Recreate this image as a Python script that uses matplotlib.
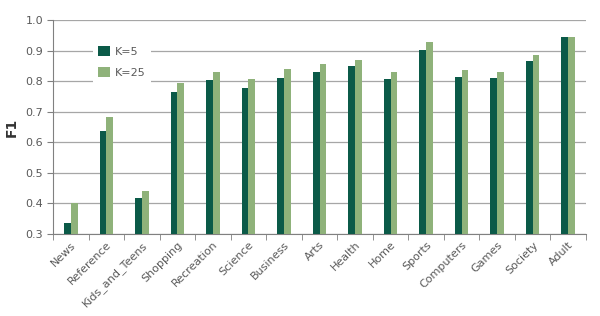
import matplotlib
matplotlib.use("Agg")
import matplotlib.pyplot as plt
import numpy as np

categories = ["News", "Reference", "Kids_and_Teens", "Shopping", "Recreation", "Science",
              "Business", "Arts", "Health", "Home", "Sports", "Computers", "Games", "Society", "Adult"]
k5 = [0.336, 0.638, 0.417, 0.766, 0.803, 0.777, 0.810, 0.831, 0.849, 0.806, 0.902, 0.814, 0.810, 0.865, 0.944]
k25 = [0.402, 0.682, 0.441, 0.794, 0.831, 0.806, 0.840, 0.857, 0.869, 0.831, 0.928, 0.835, 0.831, 0.886, 0.944]
series_labels = ["K=5", "K=25"]
yticks = [0.3, 0.4, 0.5, 0.6, 0.7, 0.8, 0.9, 1.0]

dark = "#0b5a48"
light = "#8fb27a"
txt = "#595959"

fig = plt.figure(figsize=(6, 3.16), dpi=100)
ax = fig.add_axes([53/600, 1 - 234/316, (586-53)/600, (234-20)/316])

x = np.arange(len(categories))
w = 0.19
ax.bar(x - w/2, k5, w, color=dark, label=series_labels[0], zorder=3)
ax.bar(x + w/2, k25, w, color=light, label=series_labels[1], zorder=3)

ax.set_ylim(0.3, 1.0)
ax.set_xlim(-0.5, len(categories) - 0.5)
ax.set_yticks(yticks)
ax.set_yticklabels([f"{v:.1f}" for v in yticks], fontsize=8, color=txt)
ax.yaxis.grid(True, color="#a6a6a6", linewidth=0.9, zorder=0)
ax.set_axisbelow(True)

ax.set_xticks(x)
ax.set_xticklabels(categories, rotation=45, ha="right", rotation_mode="anchor", fontsize=8, color=txt)
ax.tick_params(axis="x", which="major", length=0, pad=4)
ax.set_xticks(np.arange(-0.5, len(categories), 1.0), minor=True)
ax.tick_params(axis="x", which="minor", length=4, color="#808080")
ax.tick_params(axis="y", length=4, color="#808080", pad=3)

for s in ["top", "right"]:
    ax.spines[s].set_visible(False)
ax.spines["left"].set_color("#808080")
ax.spines["bottom"].set_color("#808080")

ax.set_ylabel("F1", fontsize=10, fontweight="bold", color="#333333")
ax.yaxis.set_label_coords(-0.064, 0.5)

leg = ax.legend(loc="upper left", bbox_to_anchor=(0.064, 0.93), frameon=True, fontsize=8,
                handlelength=1.1, handleheight=1.0, handletextpad=0.4, labelspacing=0.95,
                borderpad=0.5, labelcolor=txt)
leg.get_frame().set_edgecolor("none")
leg.get_frame().set_facecolor("white")
leg.get_frame().set_alpha(1.0)
leg.set_zorder(5)

fig.savefig("out.png", dpi=100)
